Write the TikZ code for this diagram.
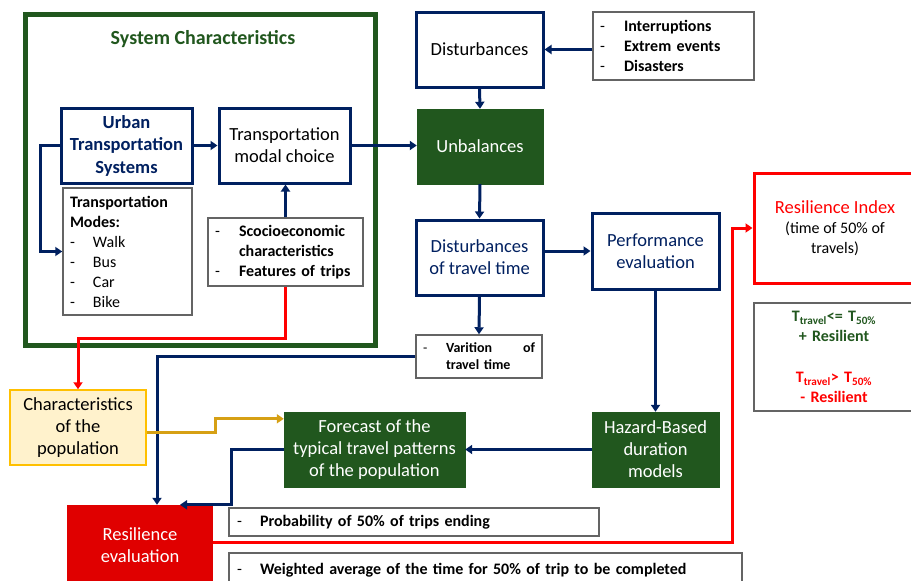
\documentclass[tikz,border=0pt]{standalone}
\usepackage{fontspec}
\setmainfont{Carlito}
\usetikzlibrary{calc}
\usetikzlibrary{arrows.meta}
\definecolor{navy}{RGB}{0,32,96}
\definecolor{dkgreen}{RGB}{33,87,30}
\definecolor{evalred}{RGB}{224,0,0}
\definecolor{popfill}{RGB}{255,242,204}
\definecolor{popline}{RGB}{255,192,0}
\definecolor{goldline}{RGB}{214,160,20}
\definecolor{boxgray}{RGB}{100,100,100}
\newcommand{\litem}[2]{\makebox[#1][l]{\mdseries -}#2}
\tikzset{
        bigtext/.style={font=\fontsize{18.5}{22}\selectfont},
        bluebox/.style={draw=navy, line width=3pt, fill=white, align=center, inner sep=0pt, bigtext},
        greenbox/.style={fill=dkgreen, draw=dkgreen, text=white, align=center, inner sep=0pt, bigtext},
        listbox/.style={draw=boxgray, line width=1.5pt, fill=white, align=left, inner xsep=7pt, inner ysep=0pt, font=\fontsize{16}{20}\selectfont\bfseries},
        bluearrow/.style={navy, line width=3pt, -{Triangle[length=7pt,width=9pt]}},
        redarrow/.style={red, line width=3pt, -{Triangle[length=7pt,width=9pt]}},
        goldarrow/.style={goldline, line width=3pt, -{Triangle[length=7pt,width=9pt]}}
}

\begin{document}
\begin{tikzpicture}[x=1pt, y=-1pt]
        \useasboundingbox (0,0) rectangle (911,581);

        % system characteristics
        \draw[dkgreen, line width=5pt] (25,14) rectangle (375,345);
        \node[text=dkgreen, font=\fontsize{20}{24}\selectfont\bfseries] (title) at (203,39) {System Characteristics};
        \node[bluebox, text=navy, font=\fontsize{18.5}{22.5}\selectfont\bfseries, minimum width=131pt, minimum height=75pt] (uts) at (126.5,145.5) {Urban\\Transportation\\Systems};
        \node[bluebox, minimum width=131pt, minimum height=75pt] (modal) at (284.5,145.5) {Transportation\\modal choice};
        \node[listbox, text width=115pt, minimum height=127pt, font=\fontsize{16}{20}\selectfont] (modes) at (127.5,251.5) {\textbf{Transportation}\\\textbf{Modes:}\\\litem{23pt}{Walk}\\\litem{23pt}{Bus}\\\litem{23pt}{Car}\\\litem{23pt}{Bike}};
        \node[listbox, text width=141pt, minimum height=68pt] (socio) at (285.5,252) {\litem{24pt}{Scocioeconomic}\\\hspace*{24pt}characteristics\\\litem{24pt}{Features of trips}};

        % column of disturbances
        \node[bluebox, minimum width=127pt, minimum height=75pt] (disturb) at (479.5,49.5) {Disturbances};
        \node[listbox, text width=147pt, minimum height=68pt] (events) at (673.5,46) {\litem{24pt}{Interruptions}\\\litem{24pt}{Extrem events}\\\litem{24pt}{Disasters}};
        \node[greenbox, minimum width=126pt, minimum height=75pt] (unbal) at (480,146.5) {Unbalances};
        \node[bluebox, text=navy, minimum width=127pt, minimum height=75pt] (dtt) at (479.5,257.5) {Disturbances\\of travel time};
        \node[bluebox, text=navy, minimum width=127pt, minimum height=76pt] (perf) at (655.5,251) {Performance\\evaluation};
        \node[listbox, text width=112pt, minimum height=43pt, font=\fontsize{14}{17}\selectfont\bfseries] (varit) at (479,356.5) {\litem{23pt}{Varition}\hfill of\\\hspace*{23pt}travel time};
        \node[greenbox, minimum width=127pt, minimum height=75pt] (hazard) at (655.5,449.5) {Hazard-Based\\duration\\models};
        \node[greenbox, minimum width=181pt, minimum height=75pt] (forecast) at (374.5,449.5) {Forecast of the\\typical travel patterns\\of the population};

        % population and evaluation
        \node[draw=popline, fill=popfill, line width=1.5pt, align=center, inner sep=0pt, bigtext, minimum width=136pt, minimum height=75pt] (charpop) at (78,427.5) {Characteristics\\of the\\population};
        \node[fill=evalred, text=white, align=center, inner sep=0pt, bigtext, minimum width=146pt, minimum height=80pt] (reseval) at (140,545) {Resilience\\evaluation};
        \node[listbox, inner xsep=8pt, text width=354pt, minimum height=28pt] (prob) at (414,522) {\litem{23pt}{Probability of 50\% of trips ending}};
        \node[listbox, inner xsep=8pt, text width=497pt, minimum height=34pt] (weighted) at (485.5,570) {\litem{23pt}{Weighted average of the time for 50\% of trip to be completed}};

        % resilience index
        \node[draw=red, line width=3pt, align=center, inner sep=0pt, font=\fontsize{16}{20}\selectfont, minimum width=162pt, minimum height=110pt] (rindex) at (835,228) {{\color{red}\fontsize{18.5}{22}\selectfont Resilience Index}\\(time of 50\% of\\travels)};
        \node[listbox, align=center, text width=146pt, minimum height=108pt, text=dkgreen] (tbox) at (834,357) {T\textsubscript{travel}<= T\textsubscript{50\%}\\+ Resilient\\[21pt]{\color{red}T\textsubscript{travel}> T\textsubscript{50\%}}\\{\color{red}- Resilient}};

        % connectors
        \draw[bluearrow] (uts.east) -- (modal.west);
        \draw[bluearrow] (uts.west) -- ++(-19,0) |- (modes.west);
        \draw[bluearrow] (socio.north) -- (socio.north |- modal.south);
        \draw[bluearrow] (modal.east) -- (modal.east -| unbal.west);
        \draw[bluearrow] (events.west |- disturb.east) -- (disturb.east);
        \draw[bluearrow] (disturb.south) -- (unbal.north);
        \draw[bluearrow] (unbal.south) -- (dtt.north);
        \draw[bluearrow] (dtt.east |- perf.west) -- (perf.west);
        \draw[bluearrow] (dtt.south) -- (varit.north);
        \draw[bluearrow] (varit.west) -| ($(reseval.north)+(17,0)$);
        \draw[bluearrow] (perf.south) -- (hazard.north);
        \draw[bluearrow] (hazard.west) -- (forecast.east);
        \draw[bluearrow] (forecast.west) -- ++(-52,0) |- ($(reseval.north)+(40,0)$);
        \draw[redarrow] (socio.south) -- ++(0,52) -| (charpop.north);
        \draw[goldarrow] ($(charpop.east)+(0,4.5)$) -- ++(69,0) |- ($(forecast.north west)+(0,7)$);
        \draw[redarrow] ($(reseval.east)+(0,-3)$) -- ++(519,0) |- (rindex.west);
\end{tikzpicture}
\end{document}
